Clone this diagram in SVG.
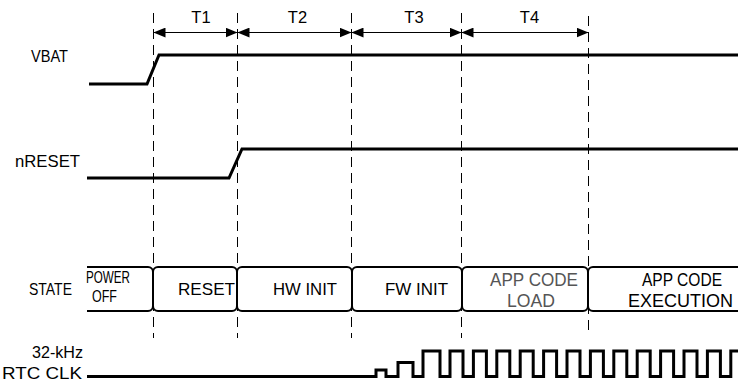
<svg xmlns="http://www.w3.org/2000/svg" width="738" height="381" viewBox="0 0 738 381">
<style>
text{font-family:"Liberation Sans",Arial,sans-serif;font-size:16.5px;fill:#000}
.big{font-size:18px}
.gray{fill:#555}
.sig{fill:none;stroke:#000;stroke-width:3;stroke-linejoin:miter}
.dash{stroke:#000;stroke-width:1;stroke-dasharray:10 6;fill:none}
.arr{stroke:#000;stroke-width:1;fill:none;marker-start:url(#ah);marker-end:url(#ah)}
.box{fill:#fff;stroke:#000;stroke-width:2}
</style>
<defs>
<marker id="ah" markerUnits="userSpaceOnUse" markerWidth="12" markerHeight="10" viewBox="0 0 11 9" refX="11" refY="4.5" orient="auto-start-reverse">
<path d="M0,0 L11,4.5 L0,9 Z" fill="#000"/>
</marker>
</defs>
<rect width="738" height="381" fill="#fff"/>

<g id="labels">
<text x="31" y="62" textLength="37" lengthAdjust="spacingAndGlyphs">VBAT</text>
<text x="15" y="167" textLength="65" lengthAdjust="spacingAndGlyphs">nRESET</text>
<text x="29" y="295" textLength="43" lengthAdjust="spacingAndGlyphs">STATE</text>
<text x="32" y="358" textLength="51" lengthAdjust="spacingAndGlyphs">32-kHz</text>
<text x="2" y="379" textLength="80" lengthAdjust="spacingAndGlyphs">RTC CLK</text>
</g>

<g id="connectors">
<line class="dash" x1="153.5" y1="13" x2="153.5" y2="338"/>
<line class="dash" x1="237.5" y1="13" x2="237.5" y2="338"/>
<line class="dash" x1="351.5" y1="13" x2="351.5" y2="338"/>
<line class="dash" x1="461.5" y1="13" x2="461.5" y2="338"/>
<line class="dash" x1="588.5" y1="16" x2="588.5" y2="332"/>
<line class="arr" x1="153.5" y1="32.5" x2="237.5" y2="32.5"/>
<line class="arr" x1="237.5" y1="32.5" x2="351.5" y2="32.5"/>
<line class="arr" x1="351.5" y1="32.5" x2="461.5" y2="32.5"/>
<line class="arr" x1="461.5" y1="32.5" x2="588.5" y2="32.5"/>
</g>

<g id="intervals">
<text x="201" y="23" text-anchor="middle">T1</text>
<text x="297.5" y="23" text-anchor="middle">T2</text>
<text x="414" y="23" text-anchor="middle">T3</text>
<text x="529.5" y="23" text-anchor="middle">T4</text>
</g>

<g id="vbat">
<path class="sig" d="M89,84 H147 L159,55 H740"/>
</g>
<g id="nreset">
<path class="sig" d="M87,178 H229 L242,149 H740"/>
</g>

<g id="state-power-off">
<path class="box" d="M87,267 H148 A5,5 0 0 1 153,272 V306 A5,5 0 0 1 148,311 H87"/>
<text x="86" y="283" textLength="44" lengthAdjust="spacingAndGlyphs">POWER</text>
<text x="92" y="302" textLength="25" lengthAdjust="spacingAndGlyphs">OFF</text>
</g>
<g id="state-reset">
<rect class="box" x="153" y="267" width="84" height="44" rx="5"/>
<text x="178" y="295" textLength="57" lengthAdjust="spacingAndGlyphs">RESET</text>
</g>
<g id="state-hw-init">
<rect class="box" x="237" y="267" width="115" height="44" rx="5"/>
<text x="273" y="295" textLength="64" lengthAdjust="spacingAndGlyphs">HW INIT</text>
</g>
<g id="state-fw-init">
<rect class="box" x="352" y="267" width="110" height="44" rx="5"/>
<text x="385" y="295" textLength="63" lengthAdjust="spacingAndGlyphs">FW INIT</text>
</g>
<g id="state-app-load">
<rect class="box" x="462" y="267" width="126" height="44" rx="5"/>
<text class="big gray" x="490" y="286" textLength="88" lengthAdjust="spacingAndGlyphs">APP CODE</text>
<text class="big gray" x="507" y="307" textLength="48" lengthAdjust="spacingAndGlyphs">LOAD</text>
</g>
<g id="state-app-exec">
<path class="box" d="M742,267 H593 A5,5 0 0 0 588,272 V306 A5,5 0 0 0 593,311 H742"/>
<text class="big" x="642" y="286" textLength="80" lengthAdjust="spacingAndGlyphs">APP CODE</text>
<text class="big" x="628" y="307" textLength="105" lengthAdjust="spacingAndGlyphs">EXECUTION</text>
</g>

<g id="rtc-clk">
<path class="sig" d="M87,376.5 H376 V370 H386 V376.5 H398 V362.5 H413 V376.5 H423 V351 H440 V376.5 H450 V351 H463 V376.5 H473.4 V351 H486.4 V376.5 H496.8 V351 H509.8 V376.5 H520.2 V351 H533.2 V376.5 H543.6 V351 H556.6 V376.5 H567 V351 H580 V376.5 H590.4 V351 H603.4 V376.5 H613.8 V351 H626.8 V376.5 H637.2 V351 H650.2 V376.5 H660.6 V351 H673.6 V376.5 H684 V351 H697 V376.5 H707.4 V351 H720.4 V376.5 H730.8 V351 H742"/>
</g>
</svg>
